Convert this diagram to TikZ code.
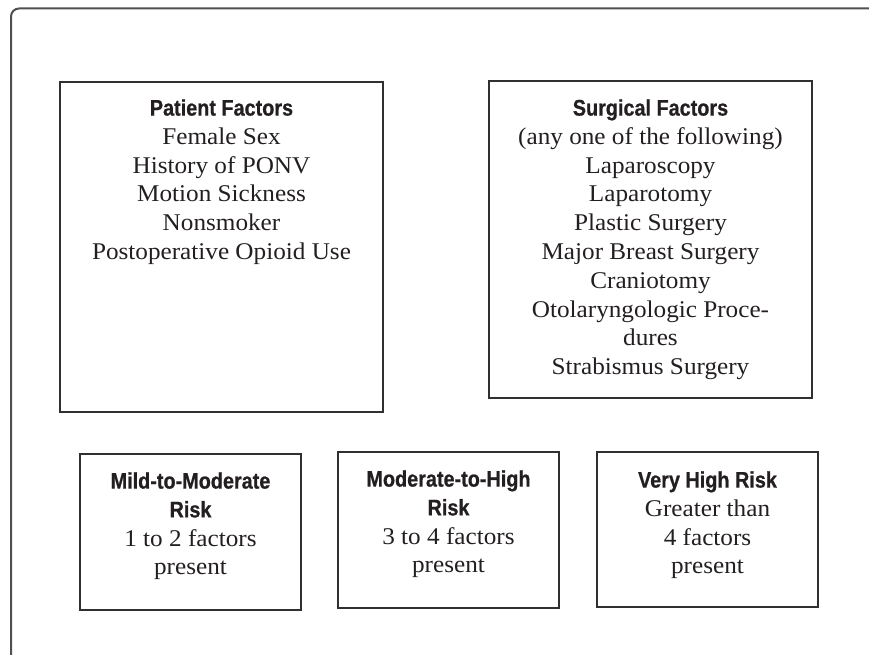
\documentclass[tikz,border=0pt]{standalone}
\usepackage{fontspec}
\usetikzlibrary{fit}
\setmainfont[FakeStretch=1.05]{Liberation Serif}
\newfontfamily\hdfont[FakeStretch=0.88,FakeBold=0.7]{Liberation Sans}
\definecolor{ink}{HTML}{231F20}
\definecolor{framegray}{HTML}{505050}
\definecolor{boxline}{HTML}{303030}
\newcommand{\hd}[1]{{\hdfont\bfseries\fontsize{16.9pt}{21.6pt}\selectfont #1}}
\tikzset{
  box/.style={draw=boxline, line width=0.9pt, inner sep=0pt},
  txt/.style={anchor=north, inner sep=0pt, align=center, text=ink,
    font=\fontsize{18pt}{21.6pt}\selectfont},
  frame/.style={draw=framegray, line width=1.5pt, rounded corners=6}
}
\begin{document}
\begin{tikzpicture}[x=0.75pt,y=-0.75pt]
\useasboundingbox (0,0) rectangle (869,655);
\draw[frame] (875,8.5) -- (11,8.5) -- (11,662);
% top boxes
\node[box, fit={(60,82) (383,412)}] (pat) {};
\node[box, fit={(489,81) (812,398)}] (sur) {};
\node[txt] (patt) at (221.5,99) {\hd{Patient Factors}\\Female Sex\\History of PONV\\Motion Sickness\\Nonsmoker\\Postoperative Opioid Use};
\node[txt] (surt) at (650.5,99) {\hd{Surgical Factors}\\(any one of the following)\\Laparoscopy\\Laparotomy\\Plastic Surgery\\Major Breast Surgery\\Craniotomy\\Otolaryngologic Proce-\\dures\\Strabismus Surgery};
% bottom boxes
\node[box, fit={(80,454) (301,610)}] (mild) {};
\node[box, fit={(338,452) (559,608)}] (mod) {};
\node[box, fit={(597,452) (818,607)}] (vhi) {};
\node[txt] (mildt) at (190.5,472) {\hd{Mild-to-Moderate}\\\hd{Risk}\\1 to 2 factors\\present};
\node[txt] (modt) at (448.5,470) {\hd{Moderate-to-High}\\\hd{Risk}\\3 to 4 factors\\present};
\node[txt] (vhit) at (707.5,471) {\hd{Very High Risk}\\Greater than\\4 factors\\present};
\end{tikzpicture}
\end{document}
